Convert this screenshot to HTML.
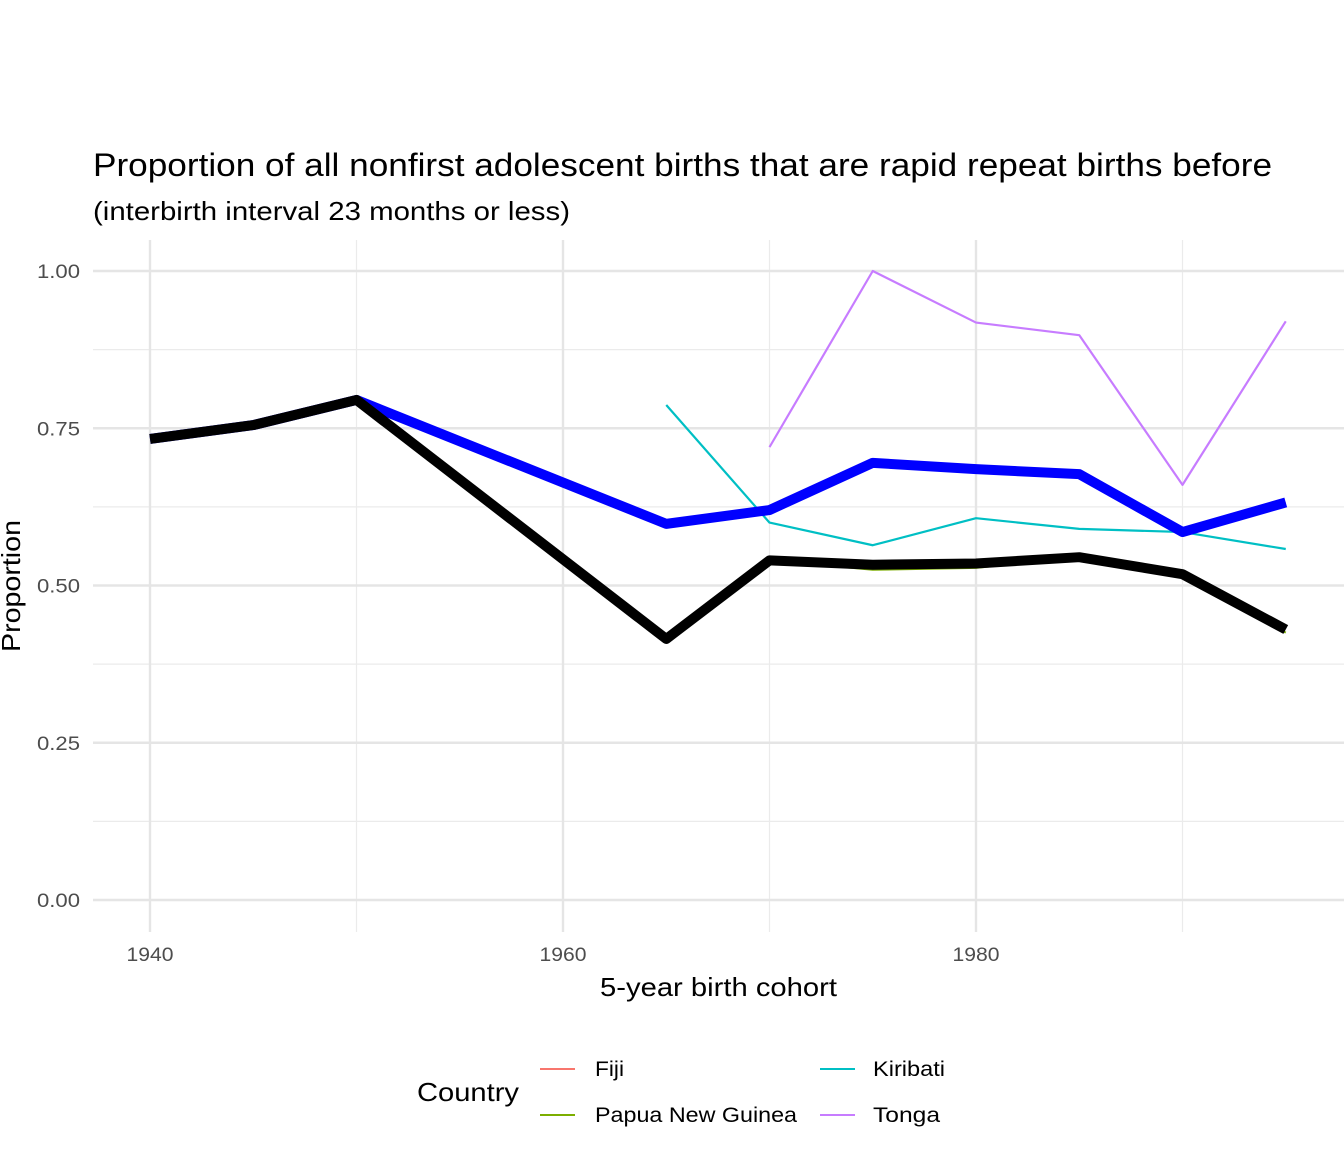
<!DOCTYPE html>
<html><head><meta charset="utf-8"><style>
body{margin:0;background:#fff;}
svg{display:block;font-family:"Liberation Sans",Arial,sans-serif;}
</style></head><body>
<svg id="chart" width="1344" height="1152" viewBox="0 0 1344 1152">
<text x="93" y="176" font-size="32" textLength="1179" lengthAdjust="spacingAndGlyphs" fill="#000">Proportion of all nonfirst adolescent births that are rapid repeat births before</text>
<text x="93" y="220" font-size="26" textLength="477" lengthAdjust="spacingAndGlyphs" fill="#000">(interbirth interval 23 months or less)</text>
<g id="grid"></g>
<g id="series"></g>
<g id="axes"></g>
<text x="600" y="996" font-size="26" textLength="237" lengthAdjust="spacingAndGlyphs">5-year birth cohort</text>
<text transform="translate(20,652) rotate(-90)" font-size="26" textLength="132" lengthAdjust="spacingAndGlyphs">Proportion</text>
<g>
<text x="417" y="1101" font-size="26" textLength="102" lengthAdjust="spacingAndGlyphs">Country</text>
<g><line x1="540" y1="1069" x2="575" y2="1069" stroke="#F8766D" stroke-width="2"/><text x="595" y="1076" font-size="21" textLength="29" lengthAdjust="spacingAndGlyphs">Fiji</text></g>
<g><line x1="540" y1="1115" x2="575" y2="1115" stroke="#7CAE00" stroke-width="2"/><text x="595" y="1122" font-size="21" textLength="202" lengthAdjust="spacingAndGlyphs">Papua New Guinea</text></g>
<g><line x1="820" y1="1069" x2="855" y2="1069" stroke="#00BFC4" stroke-width="2"/><text x="873" y="1076" font-size="21" textLength="72" lengthAdjust="spacingAndGlyphs">Kiribati</text></g>
<g><line x1="820" y1="1115" x2="855" y2="1115" stroke="#C77CFF" stroke-width="2"/><text x="873" y="1122" font-size="21" textLength="67" lengthAdjust="spacingAndGlyphs">Tonga</text></g>
</g>
</svg>
<script>
const years = [1940,1945,1950,1965,1970,1975,1980,1985,1990,1995];
const fijiVals = [0.733,0.755,0.795,0.598,0.62,0.695,0.685,0.677,0.585,0.632];
const pngVals = [0.733,0.755,0.795,0.415,0.54,0.525,0.528,0.545,0.518,0.425];
const kiribatiYears = [1965,1970,1975,1980,1985,1990,1995];
const kiribatiVals = [0.787,0.6,0.564,0.607,0.59,0.585,0.558];
const tongaYears = [1970,1975,1980,1985,1990,1995];
const tongaVals = [0.72,1.0,0.918,0.898,0.66,0.92];
const blueVals = [0.733,0.755,0.795,0.598,0.62,0.695,0.685,0.677,0.585,0.632];
const blackVals = [0.733,0.755,0.795,0.415,0.54,0.533,0.535,0.545,0.518,0.43];
const xTicks = [1940,1960,1980];
const xMinor = [1950,1970,1990];
const yTicks = [0,0.25,0.5,0.75,1.0];
const yTickLabels = ["0.00","0.25","0.50","0.75","1.00"];
const yMinor = [0.125,0.375,0.625,0.875];

const NS="http://www.w3.org/2000/svg";
const X=v=>150+(v-1940)*20.65;
const Y=v=>900-v*629;
const L=93,R=1344,T=240,B=932;
function mk(tag,attrs,parent){const e=document.createElementNS(NS,tag);for(const k in attrs)e.setAttribute(k,attrs[k]);parent.appendChild(e);return e;}
const grid=document.getElementById('grid'),axes=document.getElementById('axes'),ser=document.getElementById('series');
yMinor.forEach(v=>{const e=mk('line',{x1:L,x2:R,y1:Y(v),y2:Y(v),stroke:'#ebebeb','stroke-width':1.2},grid);

});
xMinor.forEach(v=>{const e=mk('line',{x1:X(v),x2:X(v),y1:T,y2:B,stroke:'#ebebeb','stroke-width':1.2},grid);

});
yTicks.forEach((v,i)=>{const e=mk('line',{x1:L,x2:R,y1:Y(v),y2:Y(v),stroke:'#e5e5e5','stroke-width':2.4},grid);


const t=mk('text',{x:80,y:Y(v)+7,'font-size':19,fill:'#4d4d4d','text-anchor':'end',textLength:43,lengthAdjust:'spacingAndGlyphs'},axes);t.textContent=yTickLabels[i];

});
xTicks.forEach(v=>{const e=mk('line',{x1:X(v),x2:X(v),y1:T,y2:B,stroke:'#e5e5e5','stroke-width':2.4},grid);


const t=mk('text',{x:X(v),y:961,'font-size':19,fill:'#4d4d4d','text-anchor':'middle',textLength:47,lengthAdjust:'spacingAndGlyphs'},axes);t.textContent=v;

});
function line(xs,vs,color,w,name){const p=mk('polyline',{points:xs.map((x,i)=>X(x)+','+Y(vs[i])).join(' '),fill:'none',stroke:color,'stroke-width':w,'stroke-linejoin':'round'},ser);

}
line(years,fijiVals,'#F8766D',2,'line-fiji');
line(years,pngVals,'#7CAE00',2,'line-papua-new-guinea');
line(kiribatiYears,kiribatiVals,'#00BFC4',2.2,'line-kiribati');
line(tongaYears,tongaVals,'#C77CFF',2.2,'line-tonga');
line(years,blueVals,'#0000ff',10,'line-blue-highlight');
line(years,blackVals,'#000000',10,'line-black-highlight');
</script>
</body></html>
